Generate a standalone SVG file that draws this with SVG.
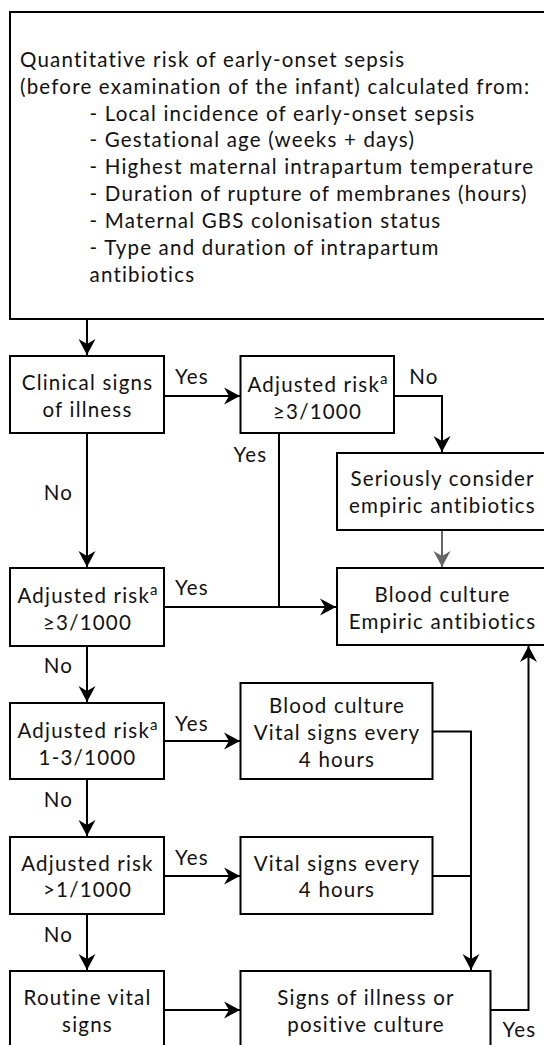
<svg xmlns="http://www.w3.org/2000/svg" width="544" height="1045" viewBox="0 0 544 1045">
<defs>
<style>
.box{fill:#fff;stroke:#000;stroke-width:2}
.ln{fill:none;stroke:#000;stroke-width:2}
.gl{fill:none;stroke:#666;stroke-width:2}
text{font-family:Lato,"Noto Sans","Liberation Sans",sans-serif;font-size:20.5px;letter-spacing:1.2px;fill:#111}
.c{text-anchor:middle}
.sup{font-size:15px;letter-spacing:0}
</style>
<marker id="ah" viewBox="-16 -9 17 18" refX="0" refY="0" markerWidth="17" markerHeight="18" markerUnits="userSpaceOnUse" orient="auto">
<path d="M0,0 L-16,-8.5 L-11,0 L-16,8.5 Z" fill="#000"/>
</marker>
<marker id="ahg" viewBox="-16 -9 17 18" refX="0" refY="0" markerWidth="17" markerHeight="18" markerUnits="userSpaceOnUse" orient="auto">
<path d="M0,0 L-16,-8.5 L-11,0 L-16,8.5 Z" fill="#666"/>
</marker>
</defs>
<rect width="544" height="1045" fill="#fff"/>

<g id="connectors">
<path class="ln" d="M87,319 V355" marker-end="url(#ah)"/>
<path class="ln" d="M164,396 H240" marker-end="url(#ah)"/>
<path class="ln" d="M394,396 H442 V452" marker-end="url(#ah)"/>
<path class="ln" d="M279,433 V607"/>
<path class="ln" d="M164,607 H336" marker-end="url(#ah)"/>
<path class="ln" d="M87,433 V567" marker-end="url(#ah)"/>
<path class="gl" d="M442,530 V567" marker-end="url(#ahg)"/>
<path class="ln" d="M87,646 V702" marker-end="url(#ah)"/>
<path class="ln" d="M164,741 H240" marker-end="url(#ah)"/>
<path class="ln" d="M432.5,731.5 H471 V970" marker-end="url(#ah)"/>
<path class="ln" d="M87,779 V836" marker-end="url(#ah)"/>
<path class="ln" d="M164,876 H240" marker-end="url(#ah)"/>
<path class="ln" d="M432.5,876 H471"/>
<path class="ln" d="M87,914 V970" marker-end="url(#ah)"/>
<path class="ln" d="M164,1010 H240" marker-end="url(#ah)"/>
<path class="ln" d="M490.5,1010 H528.5 V646" marker-end="url(#ah)"/>
<g id="edge-labels">
<text class="c" x="192" y="384">Yes</text>
<text class="c" x="424" y="384">No</text>
<text class="c" x="250.5" y="462">Yes</text>
<text class="c" x="58.5" y="500">No</text>
<text class="c" x="192" y="595">Yes</text>
<text class="c" x="58.5" y="673">No</text>
<text class="c" x="192" y="731">Yes</text>
<text class="c" x="58.5" y="807">No</text>
<text class="c" x="192" y="865">Yes</text>
<text class="c" x="58.5" y="942">No</text>
<text class="c" x="519.5" y="1037">Yes</text>
</g>
</g>

<g id="n-risk">
<rect class="box" x="10" y="12" width="560" height="307"/>
<text x="20" y="67">Quantitative risk of early-onset sepsis</text>
<text x="20" y="94">(before examination of the infant) calculated from:</text>
<text x="89.5" y="120.5">- Local incidence of early-onset sepsis</text>
<text x="89.5" y="147">- Gestational age (weeks + days)</text>
<text x="89.5" y="174">- Highest maternal intrapartum temperature</text>
<text x="89.5" y="201">- Duration of rupture of membranes (hours)</text>
<text x="89.5" y="228">- Maternal GBS colonisation status</text>
<text x="89.5" y="255">- Type and duration of intrapartum</text>
<text x="89.5" y="282">antibiotics</text>
</g>

<g id="n-clinical">
<rect class="box" x="10" y="356" width="154" height="77"/>
<text class="c" x="87.5" y="390">Clinical signs</text>
<text class="c" x="87.5" y="417">of illness</text>
</g>

<g id="n-adj-top">
<rect class="box" x="240.5" y="356" width="153.5" height="77"/>
<text class="c" x="317.5" y="392">Adjusted risk<tspan class="sup" dy="-8">a</tspan></text>
<text class="c" x="317.5" y="419">≥3/1000</text>
</g>

<g id="n-seriously">
<rect class="box" x="337" y="453" width="230" height="77"/>
<text class="c" x="442.5" y="486">Seriously consider</text>
<text class="c" x="442.5" y="513">empiric antibiotics</text>
</g>

<g id="n-blood-empiric">
<rect class="box" x="337" y="568" width="230" height="77"/>
<text class="c" x="442.5" y="602">Blood culture</text>
<text class="c" x="442.5" y="629">Empiric antibiotics</text>
</g>

<g id="n-adj-3">
<rect class="box" x="10" y="568" width="154" height="78"/>
<text class="c" x="87.5" y="603">Adjusted risk<tspan class="sup" dy="-8">a</tspan></text>
<text class="c" x="87.5" y="630">≥3/1000</text>
</g>

<g id="n-adj-1-3">
<rect class="box" x="10" y="703" width="154" height="76"/>
<text class="c" x="87.5" y="738">Adjusted risk<tspan class="sup" dy="-8">a</tspan></text>
<text class="c" x="87.5" y="765">1-3/1000</text>
</g>

<g id="n-blood-vital">
<rect class="box" x="240.5" y="683" width="192" height="96"/>
<text class="c" x="337" y="713">Blood culture</text>
<text class="c" x="337" y="740">Vital signs every</text>
<text class="c" x="337" y="767">4 hours</text>
</g>

<g id="n-adj-1">
<rect class="box" x="10" y="837" width="154" height="77"/>
<text class="c" x="87.5" y="871">Adjusted risk</text>
<text class="c" x="87.5" y="897">&gt;1/1000</text>
</g>

<g id="n-vital">
<rect class="box" x="240.5" y="837" width="192" height="77"/>
<text class="c" x="337" y="871">Vital signs every</text>
<text class="c" x="337" y="897">4 hours</text>
</g>

<g id="n-routine">
<rect class="box" x="10" y="971" width="154" height="90"/>
<text class="c" x="87.5" y="1005">Routine vital</text>
<text class="c" x="87.5" y="1032">signs</text>
</g>

<g id="n-signs">
<rect class="box" x="240.5" y="971" width="250" height="90"/>
<text class="c" x="366" y="1005">Signs of illness or</text>
<text class="c" x="366" y="1032">positive culture</text>
</g>
</svg>
